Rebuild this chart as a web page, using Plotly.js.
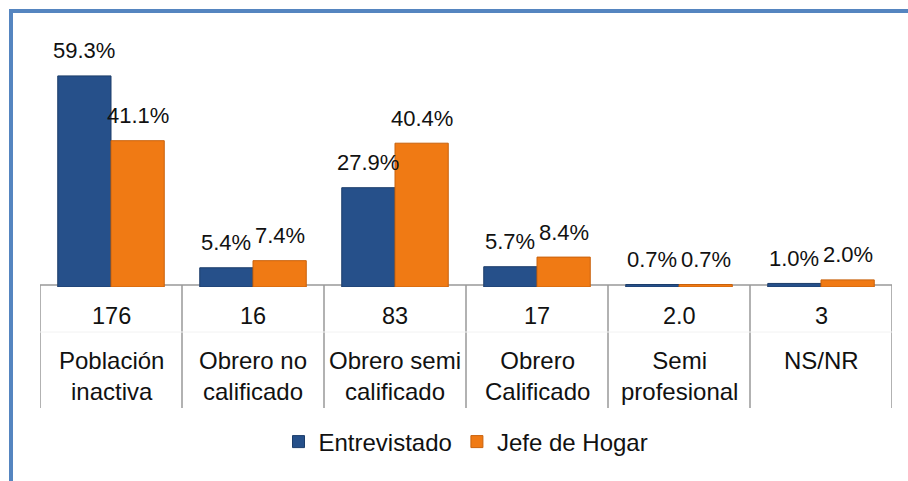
<!DOCTYPE html>
<html>
<head>
<meta charset="utf-8">
<script src="https://cdn.plot.ly/plotly-3.0.1.min.js"></script>
<style>html,body{margin:0;padding:0;background:#fff;}#chart{width:908px;height:481px;}</style>
</head>
<body>
<div id="chart"></div>
<script>
var categories = ["Población<br>inactiva", "Obrero no<br>calificado", "Obrero semi<br>calificado", "Obrero<br>Calificado", "Semi<br>profesional", "NS/NR"];
var counts = ["176", "16", "83", "17", "2.0", "3"];
var entrevistado = [59.3, 5.4, 27.9, 5.7, 0.7, 1.0];
var jefeHogar = [41.1, 7.4, 40.4, 8.4, 0.7, 2.0];
var seriesNames = ["Entrevistado", "Jefe de Hogar"];

var W = 908, H = 481;
var M = {l: 40, r: 16, t: 30, b: 194};
var pw = W - M.l - M.r, ph = H - M.t - M.b;
function px(x) { return (x - M.l) / pw; }
function py(y) { return (H - M.b - y) / ph; }

var pctFont = {family: "Liberation Sans, sans-serif", size: 22, color: "#111"};
var numFont = {family: "Liberation Sans, sans-serif", size: 23.5, color: "#111"};
var txtFont = {family: "Liberation Sans, sans-serif", size: 24, color: "#111"};

var traces = [
  {type: "bar", name: seriesNames[0], x: categories, y: entrevistado,
   marker: {color: "#26508a", line: {color: "#1c3d6a", width: 1}}},
  {type: "bar", name: seriesNames[1], x: categories, y: jefeHogar,
   marker: {color: "#f07a14", line: {color: "#c9620c", width: 1}}}
];

var annotations = [];
var off = 0.75 * pw / categories.length / 4;
categories.forEach(function (c, i) {
  annotations.push({x: c, y: entrevistado[i], xref: "x", yref: "y", text: entrevistado[i].toFixed(1) + "%",
    showarrow: false, xshift: -off, yshift: 25, yanchor: "middle", font: pctFont});
  annotations.push({x: c, y: jefeHogar[i], xref: "x", yref: "y", text: jefeHogar[i].toFixed(1) + "%",
    showarrow: false, xshift: off, yshift: 25, yanchor: "middle", font: pctFont});
  annotations.push({x: c, y: py(316), xref: "x", yref: "paper", text: counts[i],
    showarrow: false, yanchor: "middle", font: numFont});
  annotations.push({x: c, y: py(345), xref: "x", yref: "paper", text: categories[i],
    showarrow: false, yanchor: "top", font: txtFont});
});

var shapes = [];
for (var k = 0; k <= categories.length; k++) {
  shapes.push({type: "line", xref: "x", yref: "paper", x0: k - 0.5, x1: k - 0.5, y0: py(285), y1: py(408),
    line: {color: "#999999", width: 1.5}, layer: "below"});
}
shapes.push({type: "line", xref: "paper", yref: "paper", x0: 0, x1: 1, y0: py(285), y1: py(285),
  line: {color: "#999999", width: 1.5}, layer: "below"});
shapes.push({type: "line", xref: "paper", yref: "paper", x0: 0, x1: 1, y0: py(332), y1: py(332),
  line: {color: "#f2f2f2", width: 1}, layer: "below"});
// frame
shapes.push({type: "line", xref: "paper", yref: "paper", x0: px(11), x1: px(11), y0: py(9), y1: py(490),
  line: {color: "#5585c0", width: 4}});
shapes.push({type: "line", xref: "paper", yref: "paper", x0: px(9), x1: px(920), y0: py(11), y1: py(11),
  line: {color: "#5585c0", width: 4}});

var layout = {
  width: W, height: H,
  margin: M,
  paper_bgcolor: "#fff", plot_bgcolor: "#fff",
  barmode: "group", bargap: 0.25, bargroupgap: 0,
  xaxis: {type: "category", showticklabels: false, showgrid: false, zeroline: false, showline: false, ticks: "",
          range: [-0.5, categories.length - 0.5]},
  yaxis: {range: [0, 72.2], visible: false, showgrid: false, zeroline: false},
  showlegend: true,
  legend: {orientation: "h", x: 0.5, xanchor: "center", y: py(442), yanchor: "middle",
           font: txtFont, itemwidth: 30, traceorder: "normal", bgcolor: "rgba(0,0,0,0)"},
  annotations: annotations,
  shapes: shapes
};

Plotly.newPlot("chart", traces, layout, {displayModeBar: false, staticPlot: true});
</script>
</body>
</html>
